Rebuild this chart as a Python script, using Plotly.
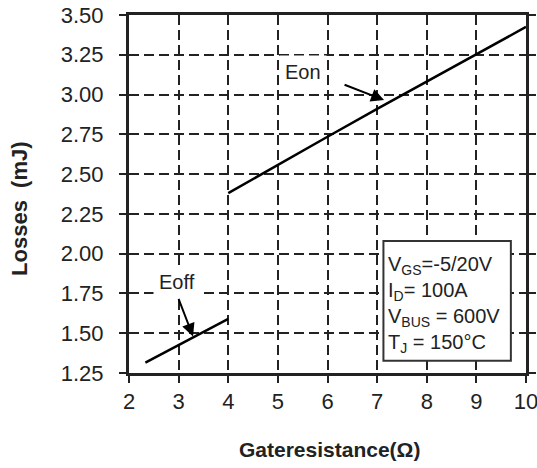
import plotly.graph_objects as go

# Data
eon_x = [4, 5, 6, 7, 8, 9, 10]
eon_y = [2.38, 2.56, 2.735, 2.91, 3.08, 3.25, 3.425]
eoff_x = [2.33, 3, 4]
eoff_y = [1.315, 1.425, 1.59]

y_ticks = [1.25, 1.50, 1.75, 2.00, 2.25, 2.50, 2.75, 3.00, 3.25, 3.50]
x_ticks = [2, 3, 4, 5, 6, 7, 8, 9, 10]

FONT = "Liberation Sans, Arial, sans-serif"
INK = "#222222"

fig = go.Figure()
fig.add_trace(go.Scatter(x=eon_x, y=eon_y, mode="lines",
                         line=dict(color="black", width=2.5), showlegend=False))
fig.add_trace(go.Scatter(x=eoff_x, y=eoff_y, mode="lines",
                         line=dict(color="black", width=2.5), showlegend=False))

# condition box
fig.add_shape(type="rect", x0=7.127, x1=9.695, y0=1.327, y1=2.08,
              xref="x", yref="y", fillcolor="white",
              line=dict(color="#333333", width=2), layer="above")
fig.add_annotation(x=7.17, y=1.682, xref="x", yref="y", xanchor="left",
                   yanchor="middle", align="left", showarrow=False,
                   text="V<sub>GS</sub>=-5/20V<br>I<sub>D</sub>= 100A<br>V<sub>BUS</sub> = 600V<br>T<sub>J</sub> = 150°C",
                   font=dict(family=FONT, size=20, color=INK))

# Eon label and arrow
fig.add_annotation(x=7.14, y=2.965, xref="x", yref="y", text="",
                   showarrow=True, arrowhead=2, arrowsize=1.3, arrowwidth=2,
                   arrowcolor="black", ax=-41, ay=-16)
fig.add_annotation(x=5.51, y=3.14, xref="x", yref="y", text="Eon",
                   showarrow=False, bgcolor="white", borderpad=5,
                   font=dict(family=FONT, size=20, color=INK))
# Eoff label and arrow
fig.add_annotation(x=2.97, y=1.825, xref="x", yref="y", text="Eoff",
                   showarrow=False, bgcolor="white", borderpad=5,
                   font=dict(family=FONT, size=20, color=INK))
fig.add_annotation(x=3.29, y=1.48, xref="x", yref="y", text="",
                   showarrow=True, arrowhead=2, arrowsize=1.3, arrowwidth=2,
                   arrowcolor="black", ax=-15, ay=-39)

# axis titles (placed in paper coordinates)
fig.add_annotation(x=0.5055, y=-0.215, xref="paper", yref="paper",
                   text="<b>Gateresistance(Ω)</b>", showarrow=False,
                   xanchor="center", yanchor="middle",
                   font=dict(family=FONT, size=21, color=INK))
fig.add_annotation(x=-0.2746, y=0.461, xref="paper", yref="paper",
                   text="<b>Losses&nbsp;&nbsp;(mJ)</b>", showarrow=False,
                   textangle=-90, xanchor="center", yanchor="middle",
                   font=dict(family=FONT, size=22, color=INK))

fig.update_layout(
    width=537, height=468,
    margin=dict(l=129, r=11, t=15, b=95),
    paper_bgcolor="white", plot_bgcolor="white",
    font=dict(family=FONT, size=22, color=INK),
    xaxis=dict(range=[2, 10], tickvals=x_ticks, ticks="outside", ticklen=7,
               tickwidth=2, tickcolor=INK, automargin=False,
               ticklabeloverflow="allow",
               showline=True, linewidth=3, linecolor=INK, mirror=True,
               showgrid=True, gridcolor=INK, gridwidth=2, griddash="10px,5px",
               zeroline=False),
    yaxis=dict(range=[1.25, 3.5], tickvals=y_ticks, tickformat=".2f",
               ticks="outside", ticklen=7, tickwidth=2, tickcolor=INK,
               automargin=False, ticklabelstandoff=11,
               ticklabeloverflow="allow",
               showline=True, linewidth=3, linecolor=INK, mirror="ticks",
               showgrid=True, gridcolor=INK, gridwidth=2, griddash="10px,5px",
               zeroline=False),
)

fig.write_html("out.html")
